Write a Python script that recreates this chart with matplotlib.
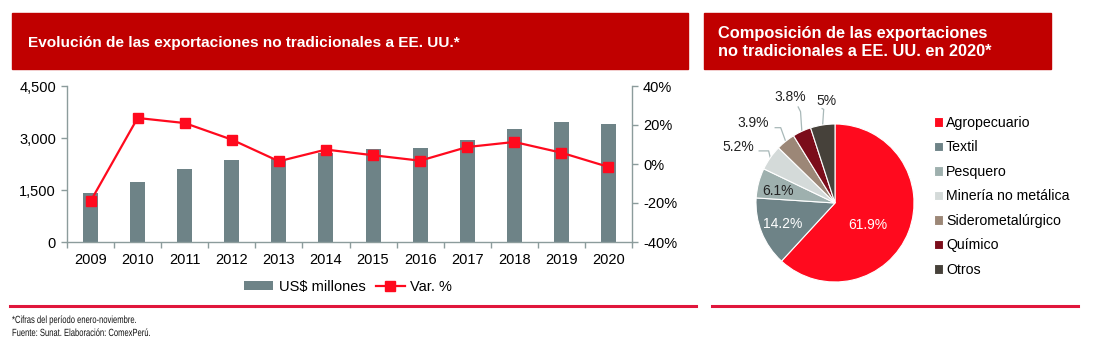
import matplotlib
matplotlib.use("Agg")
import matplotlib.pyplot as plt
import numpy as np
from matplotlib.patches import Rectangle, Patch
from matplotlib.lines import Line2D
from matplotlib.patheffects import AbstractPathEffect
from matplotlib.transforms import Affine2D

plt.rcParams['font.family'] = ['Liberation Sans', 'DejaVu Sans']

# ---- data ----
years = ["2009", "2010", "2011", "2012", "2013", "2014",
         "2015", "2016", "2017", "2018", "2019", "2020"]
exports_musd = [1420, 1740, 2105, 2365, 2385, 2565, 2675, 2715, 2945, 3260, 3455, 3405]
var_pct = [-19.1, 23.6, 21.0, 12.5, 1.4, 7.4, 4.5, 1.7, 8.7, 11.3, 5.8, -1.5]

sectors = ["Agropecuario", "Textil", "Pesquero", "Minería no metálica",
           "Siderometalúrgico", "Químico", "Otros"]
shares = [61.9, 14.2, 6.1, 5.2, 3.9, 3.8, 5.0]
share_labels = ["61.9%", "14.2%", "6.1%", "5.2%", "3.9%", "3.8%", "5%"]

# ---- styles ----
W, H = 1101, 348
DPI = 100
HEADER_RED = "#C00000"
RULE_RED = "#E0163C"
BAR_GREY = "#6E8387"
LINE_RED = "#FF0A1E"
AXIS_GREY = "#8C9C9C"
pie_colors = ["#FF0A1E", "#6E8387", "#9EB0AE", "#D4DAD9", "#9C8777", "#7B0C1A", "#46413A"]


class Condensed(AbstractPathEffect):
    """Draw text glyphs horizontally squeezed, like a narrow typeface."""

    def __init__(self, sx):
        super().__init__()
        self.sx = sx

    def draw_path(self, renderer, gc, tpath, affine, rgbFace=None):
        renderer.draw_path(gc, tpath, Affine2D().scale(self.sx, 1.0) + affine, rgbFace)


def fx(px):
    return px / W


def fy(py):
    return 1 - py / H


fig = plt.figure(figsize=(W / DPI, H / DPI), dpi=DPI)

# header bands
for x0, x1 in [(12, 688), (704, 1051)]:
    fig.patches.append(Rectangle((fx(x0), fy(69)), fx(x1 - x0), (69 - 13) / H,
                                 transform=fig.transFigure, color=HEADER_RED, zorder=0))
fig.text(fx(28), fy(43), "Evolución de las exportaciones no tradicionales a EE. UU.*",
         color="white", fontsize=11.1, fontweight="bold", va="center", ha="left")
fig.text(fx(718), fy(42.5), "Composición de las exportaciones\nno tradicionales a EE. UU. en 2020*",
         color="white", fontsize=11.8, fontweight="bold", va="center", ha="left",
         linespacing=1.3)

# bottom rules
for x0, x1 in [(10, 696), (712, 1078)]:
    fig.add_artist(Line2D([fx(x0), fx(x1)], [fy(306), fy(306)], transform=fig.transFigure,
                          color=RULE_RED, lw=2.2))

# footnotes in a narrow face
for ypx, note in [(320, "*Cifras del período enero-noviembre."),
                  (333, "Fuente: Sunat. Elaboración: ComexPerú.")]:
    fig.text(fx(12), fy(ypx), note, fontsize=7.5, va="center", color="#111111",
             path_effects=[Condensed(0.73)])

# ---- bar + line chart ----
ax = fig.add_axes([fx(67), fy(242), fx(632 - 67), (242 - 86) / H])
x = np.arange(len(years))
ax.bar(x, exports_musd, width=0.32, color=BAR_GREY, zorder=2)
ax.set_xlim(-0.5, len(years) - 0.5)
ax.set_ylim(0, 4500)
ax.set_yticks([0, 1500, 3000, 4500])
ax.set_yticklabels(["0", "1,500", "3,000", "4,500"])
ax.set_xticks(x)
ax.set_xticklabels(years)
ax.set_xticks(np.arange(-0.5, len(years), 1), minor=True)
ax.tick_params(axis="x", which="major", length=0, labelsize=10.5, pad=8)
ax.tick_params(axis="x", which="minor", length=4, color=AXIS_GREY, width=1)
ax.tick_params(axis="y", length=4, color=AXIS_GREY, width=1, labelsize=10.5, pad=4)
for s in ["top", "right"]:
    ax.spines[s].set_visible(False)
for s in ["left", "bottom"]:
    ax.spines[s].set_color(AXIS_GREY)
    ax.spines[s].set_linewidth(1)

ax2 = ax.twinx()
ax2.plot(x, var_pct, color=LINE_RED, lw=1.6, marker="s", markersize=7, zorder=3)
ax2.set_ylim(-40, 40)
ax2.set_yticks([-40, -20, 0, 20, 40])
ax2.set_yticklabels(["-40%", "-20%", "0%", "20%", "40%"])
ax2.tick_params(axis="y", length=4, color=AXIS_GREY, width=1, labelsize=10.5, pad=4)
for s in ["top", "left", "bottom"]:
    ax2.spines[s].set_visible(False)
ax2.spines["right"].set_color(AXIS_GREY)
ax2.spines["right"].set_linewidth(1)

handles = [Patch(facecolor=BAR_GREY, edgecolor="none"),
           Line2D([], [], color=LINE_RED, lw=1.6, marker="s", markersize=7)]
fig.legend(handles, ["US$ millones", "Var. %"], loc="center",
           bbox_to_anchor=(fx(348), fy(287)), ncol=2, frameon=False, fontsize=10.5,
           handlelength=2.0, handleheight=0.6, columnspacing=0.7, handletextpad=0.35)

# ---- pie chart ----
cx, cy, r = 835, 203, 79
half = 110
pax = fig.add_axes([fx(cx - half), fy(cy + half), fx(2 * half), 2 * half / H])
wedges, _ = pax.pie(shares, colors=pie_colors, startangle=90, counterclock=False,
                    radius=1.0, wedgeprops=dict(edgecolor="white", linewidth=0.8))
lim = half / r
pax.set_xlim(-lim, lim)
pax.set_ylim(-lim, lim)
pax.set_aspect("equal")
pax.axis("off")

# inside labels: (radius, angle nudge in degrees, colour)
inside = {0: (0.50, -12, "white"), 1: (0.72, 0, "white"), 2: (0.74, 3, "#222222")}
# outside labels: (radius, angle nudge, leader start offset, leader elbow offset)
outside = {3: (1.42, 5, (0.27, -0.05), (0.39, -0.05)),
           4: (1.45, 7, (0.28, -0.06), (0.35, -0.06)),
           5: (1.46, -2, (0.10, -0.13), (0.13, -0.19)),
           6: (1.30, -4, (-0.05, -0.10), (-0.03, -0.11))}
for i, w in enumerate(wedges):
    mid = np.deg2rad((w.theta1 + w.theta2) / 2)
    if i in inside:
        rad, dang, col = inside[i]
        a = mid + np.deg2rad(dang)
        pax.text(rad * np.cos(a), rad * np.sin(a), share_labels[i], color=col,
                 fontsize=10, ha="center", va="center")
    else:
        rad, dang, s_off, e_off = outside[i]
        a = mid + np.deg2rad(dang)
        lx, ly = rad * np.cos(a), rad * np.sin(a)
        pax.text(lx, ly, share_labels[i], color="#222222", fontsize=10,
                 ha="center", va="center")
        xs = [lx + s_off[0], lx + e_off[0], np.cos(mid)]
        ys = [ly + s_off[1], ly + e_off[1], np.sin(mid)]
        pax.plot(xs, ys, color="#A8B8B8", lw=0.9, clip_on=False, zorder=0)

fig.legend(wedges, sectors, loc="upper left", bbox_to_anchor=(fx(934), fy(116)),
           frameon=False, fontsize=10.2, handlelength=0.65, handleheight=0.65,
           handletextpad=0.2, labelspacing=0.74, borderaxespad=0, borderpad=0)

fig.savefig("out.png", dpi=DPI)
